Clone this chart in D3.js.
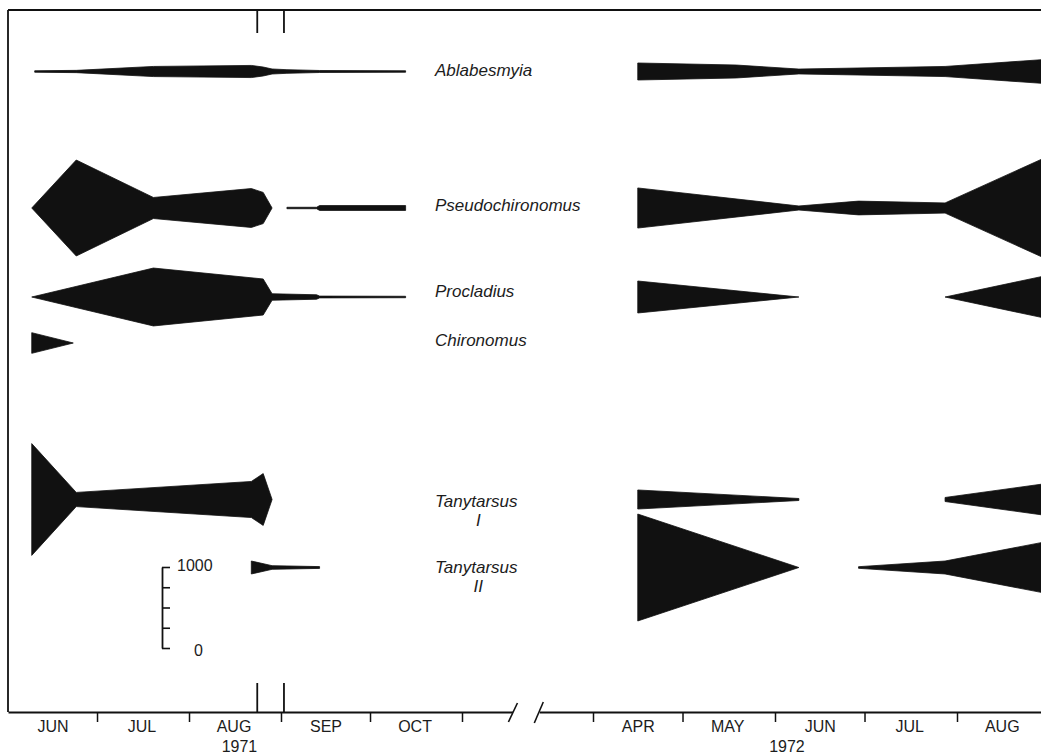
<!DOCTYPE html>
<html>
<head>
<meta charset="utf-8">
<script src="https://cdn.jsdelivr.net/npm/d3@7"></script>
<style>
  html, body { margin: 0; padding: 0; background: #fff; }
  svg { display: block; background: #fff; }
  text { font-family: "Liberation Sans", Arial, Helvetica, sans-serif; fill: #1c1c1c; }
</style>
</head>
<body>
<svg id="chart" width="1041" height="755"></svg>
<script>
// ---- data -----------------------------------------------------------------
// Taxa, top to bottom
const taxa = ["Ablabesmyia", "Pseudochironomus", "Procladius", "Chironomus", "Tanytarsus I", "Tanytarsus II"];

// Month labels under each season
const months1971 = ["1971-06", "1971-07", "1971-08", "1971-09", "1971-10"];
const months1972 = ["1972-04", "1972-05", "1972-06", "1972-07", "1972-08"];
const yearLabels = [["1971", "1971-08-18"], ["1972", "1972-06-05"]];

// Two dates marked on the frame in late summer 1971
const markedDates = ["1971-08-24", "1971-09-02"];

// Larval density (no. per m²) by sampling date; each inner list is one continuous run
const ablabesmyia1971 = [[["1971-06-10", 18], ["1971-06-24", 28], ["1971-07-20", 125], ["1971-08-22", 150],
                          ["1971-08-26", 110], ["1971-08-29", 62], ["1971-09-03", 45], ["1971-09-14", 25], ["1971-10-13", 18]]];
const ablabesmyia1972 = [[["1972-04-16", 210], ["1972-05-19", 160], ["1972-06-09", 60], ["1972-07-28", 125], ["1972-08-31", 300]]];

const pseudochironomus1971 = [[["1971-06-09", 0], ["1971-06-24", 1185], ["1971-07-20", 260], ["1971-08-22", 480],
                               ["1971-08-26", 385], ["1971-08-29", 0]],
                              [["1971-09-03", 18], ["1971-09-13", 18], ["1971-09-14", 60], ["1971-10-13", 60]]];
const pseudochironomus1972 = [[["1972-04-16", 495], ["1972-06-09", 50], ["1972-06-29", 170], ["1972-07-28", 125], ["1972-08-31", 1260]]];

const procladius1971 = [[["1971-06-09", 0], ["1971-07-20", 715], ["1971-08-26", 445], ["1971-08-29", 80],
                         ["1971-09-13", 55], ["1971-09-14", 22], ["1971-10-13", 18]]];
const procladius1972 = [[["1972-04-16", 395], ["1972-06-09", 0]],
                        [["1972-07-28", 0], ["1972-08-31", 530]]];

const chironomus1971 = [[["1971-06-09", 255], ["1971-06-23", 0]]];
const chironomus1972 = [];

const tanytarsusI1971 = [[["1971-06-09", 1380], ["1971-06-24", 175], ["1971-08-22", 445], ["1971-08-26", 640], ["1971-08-29", 0]]];
const tanytarsusI1972 = [[["1972-04-16", 235], ["1972-06-09", 25]],
                         [["1972-07-28", 50], ["1972-08-31", 395]]];

const tanytarsusII1971 = [[["1971-08-22", 160], ["1971-08-29", 45], ["1971-09-14", 22]]];
const tanytarsusII1972 = [[["1972-04-16", 1320], ["1972-06-09", 0]],
                          [["1972-06-29", 20], ["1972-07-28", 160], ["1972-08-31", 640]]];

// Scale bar for kite width
const scaleTicks = [0, 250, 500, 750, 1000];

// ---- layout ----------------------------------------------------------------
const W = 1041, H = 755;
const axisY = 712, topY = 10, frameX = 8;
const ink = "#111";
const parse = d3.utcParse("%Y-%m-%d");
const parseMonth = d3.utcParse("%Y-%m");

const svg = d3.select("#chart");

// time scales for the two seasons (same px per day within each season)
const perDay71 = 454 / 153;
const perDay72 = 364 / 122;
const x71 = d3.scaleUtc()
  .domain([parse("1971-06-01"), parse("1971-11-18")])
  .range([frameX, frameX + 170 * perDay71]);
const x72 = d3.scaleUtc()
  .domain([parse("1972-03-14"), parse("1972-09-01")])
  .range([593 - 18 * perDay72, 593 + 153 * perDay72]);
const xByYear = { "1971": x71, "1972": x72 };

// centre line of each taxon's kite and its label baseline
const rowY = d3.scaleOrdinal().domain(taxa).range([71.5, 208, 297, 343, 499.5, 567.5]);
const labelY = d3.scaleOrdinal().domain(taxa).range([76, 211, 297, 346, 507, 573]);

// kite full width: 1000 individuals = 81 px
const wScale = d3.scaleLinear().domain([0, 1000]).range([0, 81]);

const kites = [
  ["Ablabesmyia", x71, ablabesmyia1971], ["Ablabesmyia", x72, ablabesmyia1972],
  ["Pseudochironomus", x71, pseudochironomus1971], ["Pseudochironomus", x72, pseudochironomus1972],
  ["Procladius", x71, procladius1971], ["Procladius", x72, procladius1972],
  ["Chironomus", x71, chironomus1971], ["Chironomus", x72, chironomus1972],
  ["Tanytarsus I", x71, tanytarsusI1971], ["Tanytarsus I", x72, tanytarsusI1972],
  ["Tanytarsus II", x71, tanytarsusII1971], ["Tanytarsus II", x72, tanytarsusII1972]
];

// ---- frame ----------------------------------------------------------------
const frame = svg.append("g").attr("stroke", ink).attr("stroke-width", 1.8).attr("fill", "none");
frame.append("line").attr("x1", frameX).attr("x2", frameX).attr("y1", topY).attr("y2", axisY);
frame.append("line").attr("x1", frameX).attr("x2", W).attr("y1", topY).attr("y2", topY);

// marked dates: short bars on the top edge and above the axis
markedDates.forEach(d => {
  const x = x71(parse(d));
  frame.append("line").attr("x1", x).attr("x2", x).attr("y1", topY).attr("y2", topY + 23);
  frame.append("line").attr("x1", x).attr("x2", x).attr("y1", axisY - 29).attr("y2", axisY);
});

// ---- kites ------------------------------------------------------------------
const kiteLayer = svg.append("g");
kites.forEach(([taxon, x, runs]) => {
  const cy = rowY(taxon);
  const area = d3.area()
    .x(d => x(parse(d[0])))
    .y0(d => cy + wScale(d[1]) / 2)
    .y1(d => cy - wScale(d[1]) / 2);
  runs.forEach(run => {
    kiteLayer.append("path")
      .attr("d", area(run))
      .attr("fill", ink)
      .attr("stroke", ink)
      .attr("stroke-width", 0.8)
      .attr("stroke-linejoin", "round");
  });
});

// ---- taxon labels -----------------------------------------------------------
const labels = svg.append("g")
  .attr("font-size", 17).attr("font-style", "italic");
taxa.forEach(t => {
  const [genus, form] = t.split(" ");
  const g = labels.append("text").attr("x", 435).attr("y", labelY(t)).text(genus);
  if (form) {
    const len = g.node().getComputedTextLength();
    labels.append("text").attr("x", 435 + len / 2 + 2).attr("y", labelY(t) + 19)
      .attr("text-anchor", "middle").text(form);
  }
});

// ---- time axes --------------------------------------------------------------
function monthBounds(list, x) {
  const starts = list.map(parseMonth);
  const all = starts.concat([d3.utcMonth.offset(starts[starts.length - 1], 1)]);
  const [r0, r1] = x.range();
  return all.filter(d => x(d) > r0 + 3 && x(d) < Math.min(r1, W));
}
function midMonths(list) {
  return list.map(m => d3.utcDay.offset(parseMonth(m), 15));
}
const monthFmt = d => d3.utcFormat("%b")(d).toUpperCase();

[[x71, months1971], [x72, months1972]].forEach(([x, list]) => {
  const ax = svg.append("g").attr("transform", `translate(0,${axisY})`)
    .call(d3.axisBottom(x).tickValues(monthBounds(list, x)).tickSizeInner(10).tickSizeOuter(0).tickFormat(""));
  ax.select(".domain").attr("stroke", ink).attr("stroke-width", 1.8);
  ax.selectAll(".tick line").attr("stroke", ink).attr("stroke-width", 1.5);

  const lab = svg.append("g").attr("transform", `translate(0,${axisY})`)
    .call(d3.axisBottom(x).tickValues(midMonths(list)).tickSize(0).tickPadding(9).tickFormat(monthFmt));
  lab.select(".domain").remove();
  lab.selectAll("text").attr("font-size", 16).attr("font-family", null).attr("fill", "#1c1c1c");
});

// break marks between the seasons
const slash = svg.append("g").attr("stroke", ink).attr("stroke-width", 1.6);
[x71.range()[1] + 0.5, x72.range()[0] - 0.5].forEach((bx, i) => {
  slash.append("line").attr("x1", bx - 4.5).attr("y1", axisY + 10 + i)
    .attr("x2", bx + 4.5).attr("y2", axisY - 9 - i);
});

// years
yearLabels.forEach(([label, d]) => {
  svg.append("text").attr("x", xByYear[label](parse(d))).attr("y", 752)
    .attr("text-anchor", "middle").attr("font-size", 16).text(label);
});

// ---- scale bar -------------------------------------------------------------
const barY = d3.scaleLinear().domain([0, 1000]).range([567 + wScale(1000), 567]);
const bar = svg.append("g").attr("transform", "translate(162,0)")
  .call(d3.axisRight(barY).tickValues(scaleTicks).tickSizeInner(8).tickSizeOuter(0)
    .tickPadding(7).tickFormat(d => (d === 0 || d === 1000) ? d : ""));
bar.select(".domain").attr("stroke", ink).attr("stroke-width", 1.8);
bar.selectAll(".tick line").attr("stroke", ink).attr("stroke-width", 1.6);
bar.selectAll("text").attr("font-size", 16).attr("font-family", null).attr("fill", "#1c1c1c")
  .attr("x", d => d === 0 ? 32 : 15)
  .attr("dy", d => d === 0 ? "0.45em" : "0.2em");
</script>
</body>
</html>
